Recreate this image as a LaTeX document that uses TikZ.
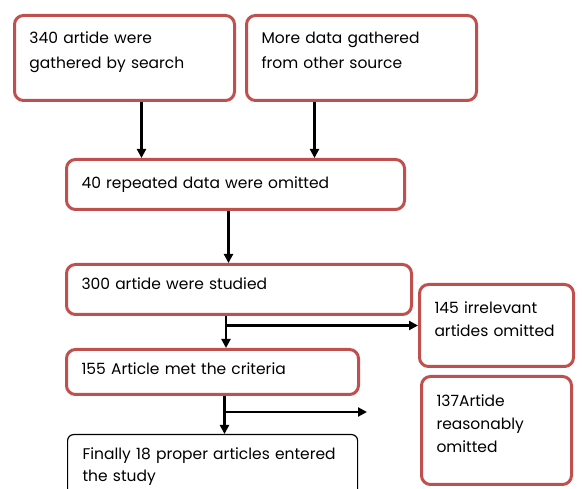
\documentclass[tikz,border=0pt]{standalone}
\usepackage{fontspec}
\setmainfont{Poppins}
\usepackage{tikz}
\usetikzlibrary{arrows.meta, positioning}
\definecolor{boxred}{RGB}{192,80,77}
\tikzstyle{block} = [rectangle, draw=boxred, line width=3pt, rounded corners=9pt, anchor=north west, align=left, inner xsep=15pt, inner ysep=4pt, font=\fontsize{15.5}{25}\selectfont]
\tikzstyle{final} = [block, draw=black, line width=1.2pt, rounded corners=6pt]
\tikzstyle{arrow} = [line width=2.2pt, -{Triangle[length=9pt, width=9pt]}]

\begin{document}
\begin{tikzpicture}[x=1pt, y=-1pt]
    \useasboundingbox (0,0) rectangle (582,489);
    \clip (0,0) rectangle (582,489);

    % Sources
    \node (search) [block, text width=190pt, text height=24pt, text depth=53pt] at (13,14) {340 artide were\\gathered by search};
    \node (other) [block, text width=200pt, text height=24pt, text depth=53pt] at (245,14) {More data gathered\\from other source};

    % Main path
    \node (repeated) [block, text width=308pt, text height=25pt, text depth=17pt] at (65,158) {40 repeated data were omitted};
    \node (studied) [block, text width=315pt, text height=21pt, text depth=21pt] at (65,263) {300 artide were studied};
    \node (criteria) [block, text width=262pt, text height=21pt, text depth=16pt] at (65,348) {155 Article met the criteria};
    \node (finally) [final, text width=260pt, text height=21pt, text depth=60pt, font=\fontsize{15.5}{22}\selectfont] at (67,434) {Finally 18 proper articles entered\\the study};

    % Omitted
    \node (irrelevant) [block, text width=124pt, text height=25pt, text depth=49pt, font=\fontsize{15.5}{23}\selectfont] at (418,283) {145 irrelevant\\artides omitted};
    \node (reasonably) [block, text width=120pt, text height=26pt, text depth=74pt, font=\fontsize{15.5}{23}\selectfont] at (420,375) {137Artide\\reasonably\\omitted};

    \coordinate (loose) at (367,412);

    % ==== Arrows
    \draw [arrow] ([xshift=17pt]search.south) -- ([xshift=17pt]search.south |- repeated.north);
    \draw [arrow] ([xshift=-47pt]other.south) -- ([xshift=-47pt]other.south |- repeated.north);
    \draw [arrow] ([xshift=-7pt]repeated.south) -- ([xshift=-7pt]repeated.south |- studied.north);
    \draw [arrow] ([xshift=-13pt]studied.south) -- ([xshift=-13pt]studied.south |- criteria.north);
    \draw [arrow] ([xshift=-13pt]studied.south |- irrelevant.west) -- (irrelevant.west);
    \draw [arrow] ([xshift=12pt]criteria.south) -- ([xshift=12pt]criteria.south |- finally.north);
    \draw [arrow] ([xshift=12pt]criteria.south |- loose) -- (loose);

\end{tikzpicture}
\end{document}
